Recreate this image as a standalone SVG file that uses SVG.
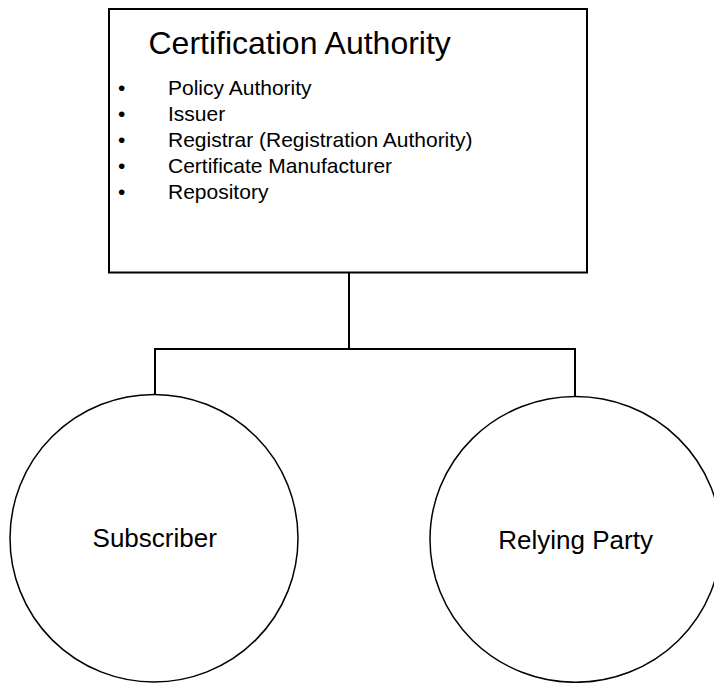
<svg xmlns="http://www.w3.org/2000/svg" width="714" height="683" viewBox="0 0 714 683">
<style>
.box{fill:#fff;stroke:#000;stroke-width:2}
.node{fill:#fff;stroke:#000;stroke-width:1.5}
.conn{fill:none;stroke:#000;stroke-width:2}
text{font-family:"Liberation Sans",Arial,sans-serif;fill:#000}
.title{font-size:32px}
.item{font-size:21px}
.lbl{font-size:26px;text-anchor:middle}
</style>
<rect width="714" height="683" fill="#fff"/>
<g id="connectors">
<polyline class="conn" points="349,272 349,349"/>
<polyline class="conn" points="155,395 155,349 575,349 575,397"/>
</g>
<g id="ca">
<rect class="box" x="109" y="9" width="478" height="263.5"/>
<text class="title" x="148.5" y="53.5">Certification Authority</text>
<text class="item" x="118" y="94.5">•</text><text class="item" x="168" y="94.5">Policy Authority</text>
<text class="item" x="118" y="120.5">•</text><text class="item" x="168" y="120.5">Issuer</text>
<text class="item" x="118" y="147">•</text><text class="item" x="168" y="147">Registrar (Registration Authority)</text>
<text class="item" x="118" y="173">•</text><text class="item" x="168" y="173">Certificate Manufacturer</text>
<text class="item" x="118" y="199">•</text><text class="item" x="168" y="199">Repository</text>
</g>
<g id="subscriber">
<ellipse class="node" cx="154" cy="538.2" rx="144" ry="143.8"/>
<text class="lbl" x="154.7" y="547">Subscriber</text>
</g>
<g id="relying-party">
<ellipse class="node" cx="575.5" cy="539.4" rx="145.5" ry="142.9"/>
<text class="lbl" x="575.6" y="549">Relying Party</text>
</g>
</svg>
